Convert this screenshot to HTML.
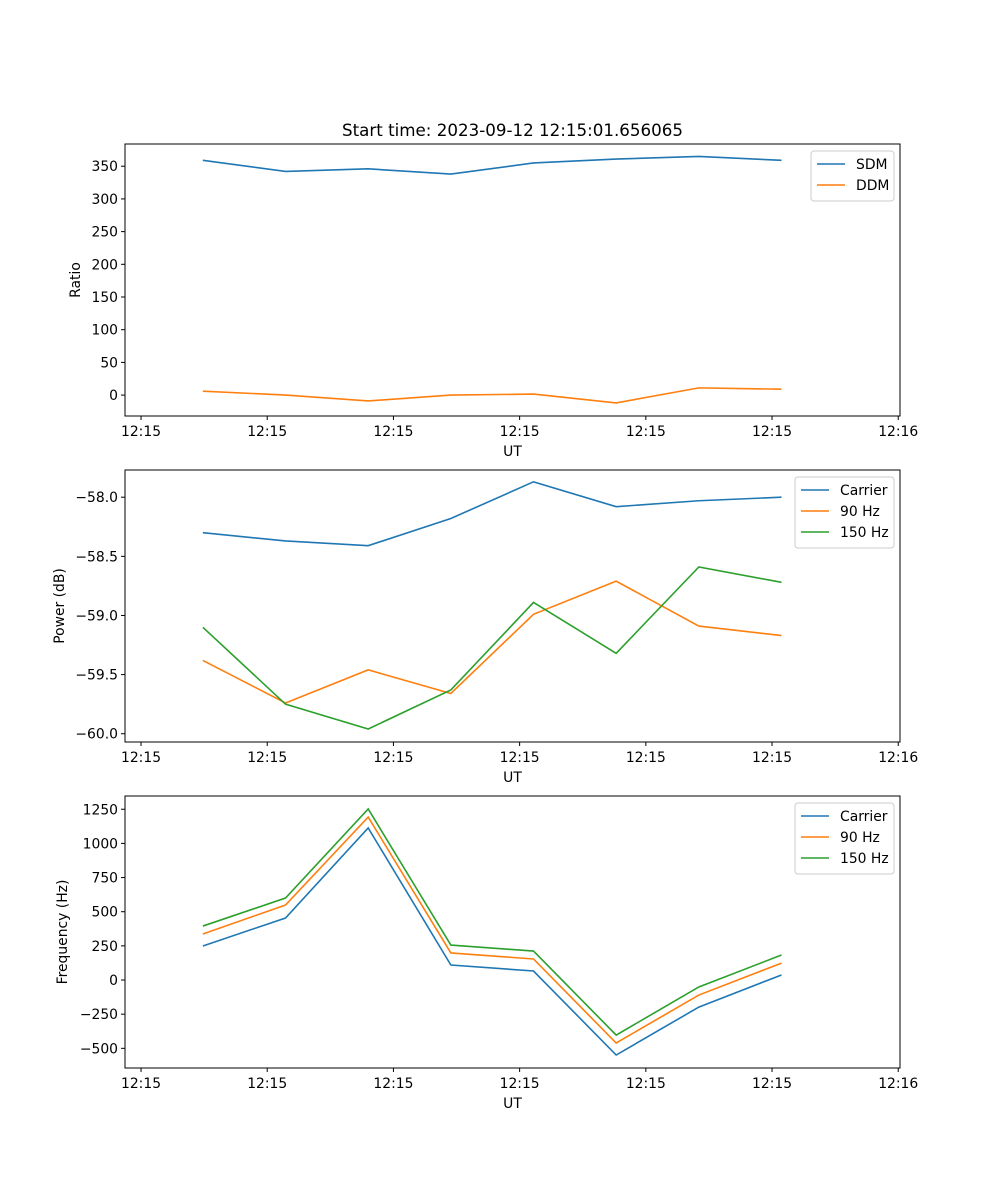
<!DOCTYPE html>
<html><head><meta charset="utf-8"><style>
body{margin:0;background:#fff;font-family:"DejaVu Sans","Liberation Sans",sans-serif}
svg text{font-family:"DejaVu Sans","Liberation Sans",sans-serif;font-size:13.9px;fill:#000}
</style></head><body>
<svg id="c" width="1000" height="1200"></svg>
<script>
const times=[4.9,11.45,18.0,24.55,31.1,37.65,44.2,50.75];
const xTickVals=[0,10,20,30,40,50,60];
const xTickLabels=["12:15","12:15","12:15","12:15","12:15","12:15","12:16"];
const sdm=[359,342,346,338,355,361,365,359];
const ddm=[6,0,-9,0,1.5,-12,11,9];
const ratioTicks=[0,50,100,150,200,250,300,350];
const pwrCarrier=[-58.30,-58.37,-58.41,-58.18,-57.87,-58.08,-58.03,-58.0];
const pwr90=[-59.38,-59.74,-59.46,-59.66,-58.99,-58.71,-59.09,-59.17];
const pwr150=[-59.10,-59.75,-59.96,-59.63,-58.89,-59.32,-58.59,-58.72];
const pwrTicks=[-60.0,-59.5,-59.0,-58.5,-58.0];
const frqCarrier=[249,454,1113,110,66,-549,-198,37];
const frq90=[337,549,1193,198,154,-461,-110,124];
const frq150=[395,600,1252,256,212,-403,-51,183];
const frqTicks=[-500,-250,0,250,500,750,1000,1250];

const NS="http://www.w3.org/2000/svg";
const svg=document.getElementById('c');
function el(t,a,p){const e=document.createElementNS(NS,t);for(const k in a)e.setAttribute(k,a[k]);(p||svg).appendChild(e);return e;}
const X0=125,X1=900,XD0=-1.27,XD1=60.14;
const xs=v=>X0+(v-XD0)/(XD1-XD0)*(X1-X0);
const C=['#1f77b4','#ff7f0e','#2ca02c'];

function panel(name,top,bot,d0,d1,ticks,fmt,series,names,ylab,legW,title){
  const g=el('g',{});
  
  
  const ys=v=>bot-(v-d0)/(d1-d0)*(bot-top);
  el('rect',{x:X0,y:top,width:X1-X0,height:bot-top,fill:'none',stroke:'#000','stroke-width':1},g);
  ticks.forEach(t=>{const y=ys(t);
    el('line',{x1:X0-4,x2:X0,y1:y,y2:y,stroke:'#000'},g);
    const tx=el('text',{x:X0-7,y:y+5,'text-anchor':'end'},g);tx.textContent=fmt(t);
    
    });
  xTickVals.forEach((t,i)=>{const x=xs(t);
    el('line',{x1:x,x2:x,y1:bot,y2:bot+4,stroke:'#000'},g);
    const tx=el('text',{x:x,y:bot+20,'text-anchor':'middle'},g);tx.textContent=xTickLabels[i];
    
    });
  const xl=el('text',{x:(X0+X1)/2,y:bot+40,'text-anchor':'middle'},g);xl.textContent='UT';
  
  
  const yl=el('text',{x:0,y:0,'text-anchor':'middle',transform:`translate(${ylab[1]},${(top+bot)/2}) rotate(-90)`},g);yl.textContent=ylab[0];
  
  
  if(title){const t=el('text',{x:(X0+X1)/2,y:top-8,'text-anchor':'middle',style:'font-size:16.7px'},g);t.textContent=title;
    
    }
  series.forEach((s,k)=>{const p=el('polyline',{points:s.map((v,i)=>xs(times[i])+','+ys(v)).join(' '),fill:'none',stroke:C[k],'stroke-width':1.6},g);
    
    });
  const lx=X1-6-legW,ly=top+7,lh=names.length*21+8;
  const lg=el('g',{},g);
  
  
  el('rect',{x:lx,y:ly,width:legW,height:lh,rx:3,fill:'#fff',stroke:'#ccc'},lg);
  names.forEach((n,k)=>{const y=ly+13+k*21;
    el('line',{x1:lx+6,x2:lx+34,y1:y,y2:y,stroke:C[k],'stroke-width':1.6},lg);
    const t=el('text',{x:lx+45,y:y+5},lg);t.textContent=n;
    
    });
}
const minus=s=>s.replace('-','\u2212');
panel('ratio-panel',144,416,-32,384,ratioTicks,t=>minus(String(t)),[sdm,ddm],['SDM','DDM'],['Ratio',80],83,'Start time: 2023-09-12 12:15:01.656065');
panel('power-panel',470,742,-60.07,-57.77,pwrTicks,t=>minus(t.toFixed(1)),[pwrCarrier,pwr90,pwr150],['Carrier','90 Hz','150 Hz'],['Power (dB)',64],99,null);
panel('frequency-panel',796,1068,-644,1347,frqTicks,t=>minus(String(t)),[frqCarrier,frq90,frq150],['Carrier','90 Hz','150 Hz'],['Frequency (Hz)',67],99,null);
</script>
</body></html>
